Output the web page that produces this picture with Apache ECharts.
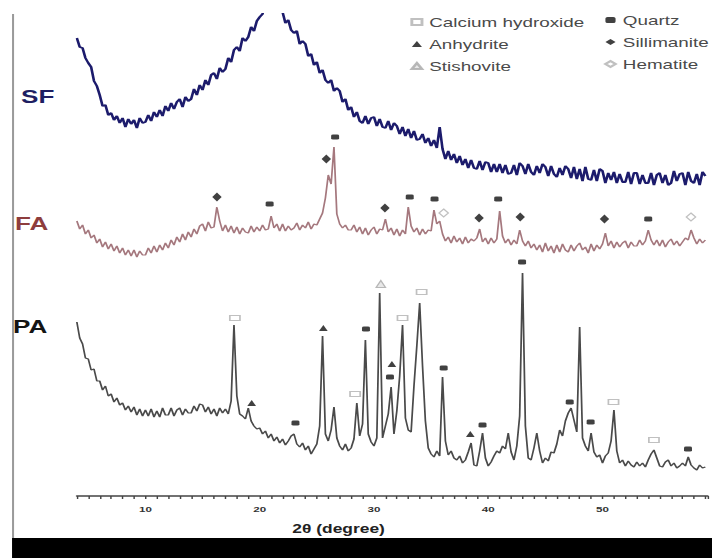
<!DOCTYPE html>
<html><head><meta charset="utf-8">
<script src="https://cdn.jsdelivr.net/npm/echarts@6/dist/echarts.min.js"></script>
<style>
html,body{margin:0;padding:0;background:#fff;overflow:hidden;}
#chart{width:491px;height:558px;transform:scaleX(1.4501);transform-origin:0 0;}
</style>
</head><body><div id="chart"></div>
<script>
// 2θ sampling of the patterns (degrees)
const thetaStart = 4, thetaStep = 0.25;
// Relative intensities (a.u., stacked with offsets)
const sfIntensity = [
458,449,448,438, 433,429,415,410, 401,390,391,381, 383,376,380,373, 378,369,377,372,
376,368,378,373, 374,381,375,384, 379,386,380,390, 385,393,387,394, 397,389,399,395,
397,407,401,411, 406,416,411,421, 423,417,428,424, 427,438,434,446, 449,445,458,455,
459,469,465,475, 479,482,494,497, 505,501,503,491, 484,473,476,466, 463,465,452,455,
452,440,442,431, 434,423,426,416, 413,416,405,408, 405,394,397,386, 389,379,384,375,
373,380,372,378, 379,370,377,369, 368,375,366,373, 370,362,369,360, 367,358,365,356,
357,362,353,358, 350,356,348,369, 347,337,345,336, 342,333,340,331, 337,328,336,328,
327,335,326,334, 333,324,332,324, 332,323,331,322, 323,331,321,333, 330,322,332,324,
321,330,323,332, 329,320,330,322, 319,328,321,330, 327,318,329,317, 327,315,329,317,
316,326,315,327, 325,313,323,316, 324,313,322,314, 314,324,312,323, 323,312,321,313,
313,323,311,321, 323,313,321,311, 313,325,315,322, 323,311,324,315, 313,322,311,324,
320];
const faIntensity = [
275,267,271,262, 266,258,261,253, 257,249,254,247, 252,245,250,243, 248,241,246,240,
246,239,245,241, 241,248,243,250, 244,251,246,253, 248,256,251,259, 254,262,256,264,
259,267,262,270, 272,265,274,268, 269,289,275,265, 271,264,270,263, 269,262,268,264,
263,270,264,269, 265,271,266,267, 280,268,272,265, 272,265,270,266, 268,273,266,271,
268,274,267,272, 271,277,283,298, 321,312,349,282, 272,268,271,266, 266,271,264,269,
262,268,261,266, 269,262,267,266, 277,264,268,261, 267,260,266,262, 289,270,264,268,
261,267,262,266, 265,286,272,275, 262,255,259,253, 260,254,258,252, 259,253,257,255,
258,267,254,258, 252,258,253,257, 285,260,253,257, 251,256,252,266, 255,250,255,248,
252,246,251,244, 253,245,250,243, 251,244,252,246, 244,251,245,250, 253,246,249,243,
252,245,251,247, 252,263,250,255, 248,254,249,253, 255,248,254,250, 250,256,251,255,
266,256,251,256, 250,256,249,254, 257,251,255,250, 254,258,256,266, 258,252,257,253,
256];
const paIntensity = [
174,158,152,138, 137,126,127,115, 115,106,110,100, 102,94,98,91, 93,86,90,84,
89,81,87,80, 86,80,87,79, 85,79,88,81, 81,88,80,86, 88,81,87,83,
83,90,85,92, 91,84,89,82, 87,80,88,83, 87,82,95,171, 100,82,80,77,
88,75,70,67, 68,62,65,58, 62,55,59,53, 57,51,55,60, 62,52,49,53,
46,50,42,47, 52,70,160,62, 55,66,89,58, 50,46,52,45, 48,57,93,60,
72,156,62,54, 50,58,203,58, 70,82,109,62, 85,120,171,78, 66,64,110,150,
193,130,75,48, 42,39,45,40, 119,55,41,45, 38,36,40,33, 36,44,53,31,
30,45,63,38, 30,34,40,45, 43,50,47,63, 44,36,50,80, 223,70,38,36,
48,63,45,33, 38,35,44,43, 52,66,60,75, 83,88,76,64, 169,58,50,45,
63,44,39,41, 33,40,43,55, 86,45,33,36, 30,35,31,29, 34,30,33,29,
36,42,46,38, 30,29,34,36, 30,33,28,30, 33,30,39,31, 28,26,31,28,
29];

// Phase identification markers (2θ, marker height)
const calciumHydroxideTheta = [17.83, 28.35, 32.5, 34.17, 50.96, 54.5];
const calciumHydroxideY     = [178, 102, 178, 204, 94, 56];
const anhydriteTheta = [19.3, 25.57, 31.57, 38.43];
const anhydriteY     = [93, 168, 132, 62];
const stishoviteTheta = [30.6];
const stishoviteY     = [212];
const quartzTheta = [23.13, 29.3, 31.4, 36.1, 39.5, 42.96, 47.13, 48.96, 57.48, 20.87, 26.6, 33.13, 35.3, 40.87, 54.0];
const quartzY     = [73, 167, 119, 128, 71, 234, 94, 74, 47, 292, 359, 299, 297, 297, 277];
const sillimaniteTheta = [16.26, 25.83, 30.96, 39.2, 42.8, 50.17];
const sillimaniteY     = [299, 337, 288, 278, 279, 277];
const hematiteTheta = [36.1, 57.74];
const hematiteY     = [283, 279];

const xTickLabels = [10, 20, 30, 40, 50];
const sampleNames = ['SF', 'FA', 'PA'];

const toPairs = arr => arr.map((v, i) => [thetaStart + i * thetaStep, v]);
const zipPairs = (xs, ys) => xs.map((x, i) => [x, ys[i]]);

const chart = echarts.init(document.getElementById('chart'), null, {renderer: 'svg'});
const txtFont = '"Liberation Sans", Arial, sans-serif';

chart.setOption({
  animation: false,
  backgroundColor: '#fff',
  grid: {left: 53, right: 0, top: 14, bottom: 62},
  xAxis: {
    type: 'value', min: 4, max: 59.2, interval: 1,
    name: '2θ (degree)', nameLocation: 'middle', nameGap: 27,
    nameTextStyle: {fontFamily: txtFont, fontWeight: 'bold', fontSize: 12, color: '#222', padding: [0, 74, 0, 0]},
    axisLine: {lineStyle: {color: '#444', width: 1.5}},
    axisTick: {length: 3, lineStyle: {color: '#444', width: 1}},
    splitLine: {show: false},
    axisLabel: {
      margin: 9, fontFamily: txtFont, fontWeight: 'bold', fontSize: 8, color: '#333',
      formatter: v => xTickLabels.includes(v) ? String(v) : ''
    }
  },
  yAxis: {type: 'value', min: 0, max: 482, show: false},
  legend: [
    {data: ['Calcium hydroxide', 'Anhydrite', 'Stishovite'], orient: 'vertical', left: 283, top: 15,
     padding: 0, itemGap: 8, itemWidth: 7, itemHeight: 6, selectedMode: false,
     textStyle: {fontFamily: txtFont, fontSize: 13, color: '#4a4a4a', lineHeight: 14}},
    {data: ['Quartz', 'Sillimanite', 'Hematite'], orient: 'vertical', left: 416.5, top: 13,
     padding: 0, itemGap: 8, itemWidth: 7, itemHeight: 6, selectedMode: false,
     textStyle: {fontFamily: txtFont, fontSize: 13, color: '#4a4a4a', lineHeight: 14}}
  ],
  graphic: [
    {type: 'rect', shape: {x: 8.3, y: 538, width: 483, height: 20}, style: {fill: '#000'}},
    {type: 'line', shape: {x1: 9, y1: 14, x2: 9, y2: 538}, style: {stroke: '#9a9a9a', lineWidth: 1.4}},
    {type: 'text', x: 14.5, y: 97, style: {text: sampleNames[0], fill: '#1e1e62', font: 'bold 18px ' + txtFont, verticalAlign: 'middle'}},
    {type: 'text', x: 10.3, y: 224, style: {text: sampleNames[1], fill: '#8e3d3d', font: 'bold 18px ' + txtFont, verticalAlign: 'middle'}},
    {type: 'text', x: 9, y: 327, style: {text: sampleNames[2], fill: '#141414', font: 'bold 18px ' + txtFont, verticalAlign: 'middle'}}
  ],
  series: [
    {type: 'line', name: 'SF', data: toPairs(sfIntensity), symbol: 'none', silent: true,
     lineStyle: {color: '#1c1b6c', width: 1.8}, z: 2},
    {type: 'line', name: 'FA', data: toPairs(faIntensity), symbol: 'none', silent: true,
     lineStyle: {color: '#a5787e', width: 1.2}, z: 2},
    {type: 'line', name: 'PA', data: toPairs(paIntensity), symbol: 'none', silent: true,
     lineStyle: {color: '#4a4a4a', width: 1.2}, z: 2},
    {type: 'scatter', name: 'Calcium hydroxide', data: zipPairs(calciumHydroxideTheta, calciumHydroxideY),
     symbol: 'rect', symbolSize: [7, 5], itemStyle: {color: '#fff', borderColor: '#b0b0b0', borderWidth: 1}, z: 5},
    {type: 'scatter', name: 'Anhydrite', data: zipPairs(anhydriteTheta, anhydriteY),
     symbol: 'triangle', symbolSize: [6, 6], itemStyle: {color: '#111'}, z: 5},
    {type: 'scatter', name: 'Stishovite', data: zipPairs(stishoviteTheta, stishoviteY),
     symbol: 'triangle', symbolSize: [6.5, 7], itemStyle: {color: '#e2e2e2', borderColor: '#a8a8a8', borderWidth: 1}, z: 5},
    {type: 'scatter', name: 'Quartz', data: zipPairs(quartzTheta, quartzY),
     symbol: 'roundRect', symbolSize: [5.5, 5], itemStyle: {color: '#111'}, z: 5},
    {type: 'scatter', name: 'Sillimanite', data: zipPairs(sillimaniteTheta, sillimaniteY),
     symbol: 'diamond', symbolSize: [6.5, 9], itemStyle: {color: '#111'}, z: 5},
    {type: 'scatter', name: 'Hematite', data: zipPairs(hematiteTheta, hematiteY),
     symbol: 'diamond', symbolSize: [6.5, 8], itemStyle: {color: '#fff', borderColor: '#b0b0b0', borderWidth: 1}, z: 5}
  ]
});
</script>
</body></html>
